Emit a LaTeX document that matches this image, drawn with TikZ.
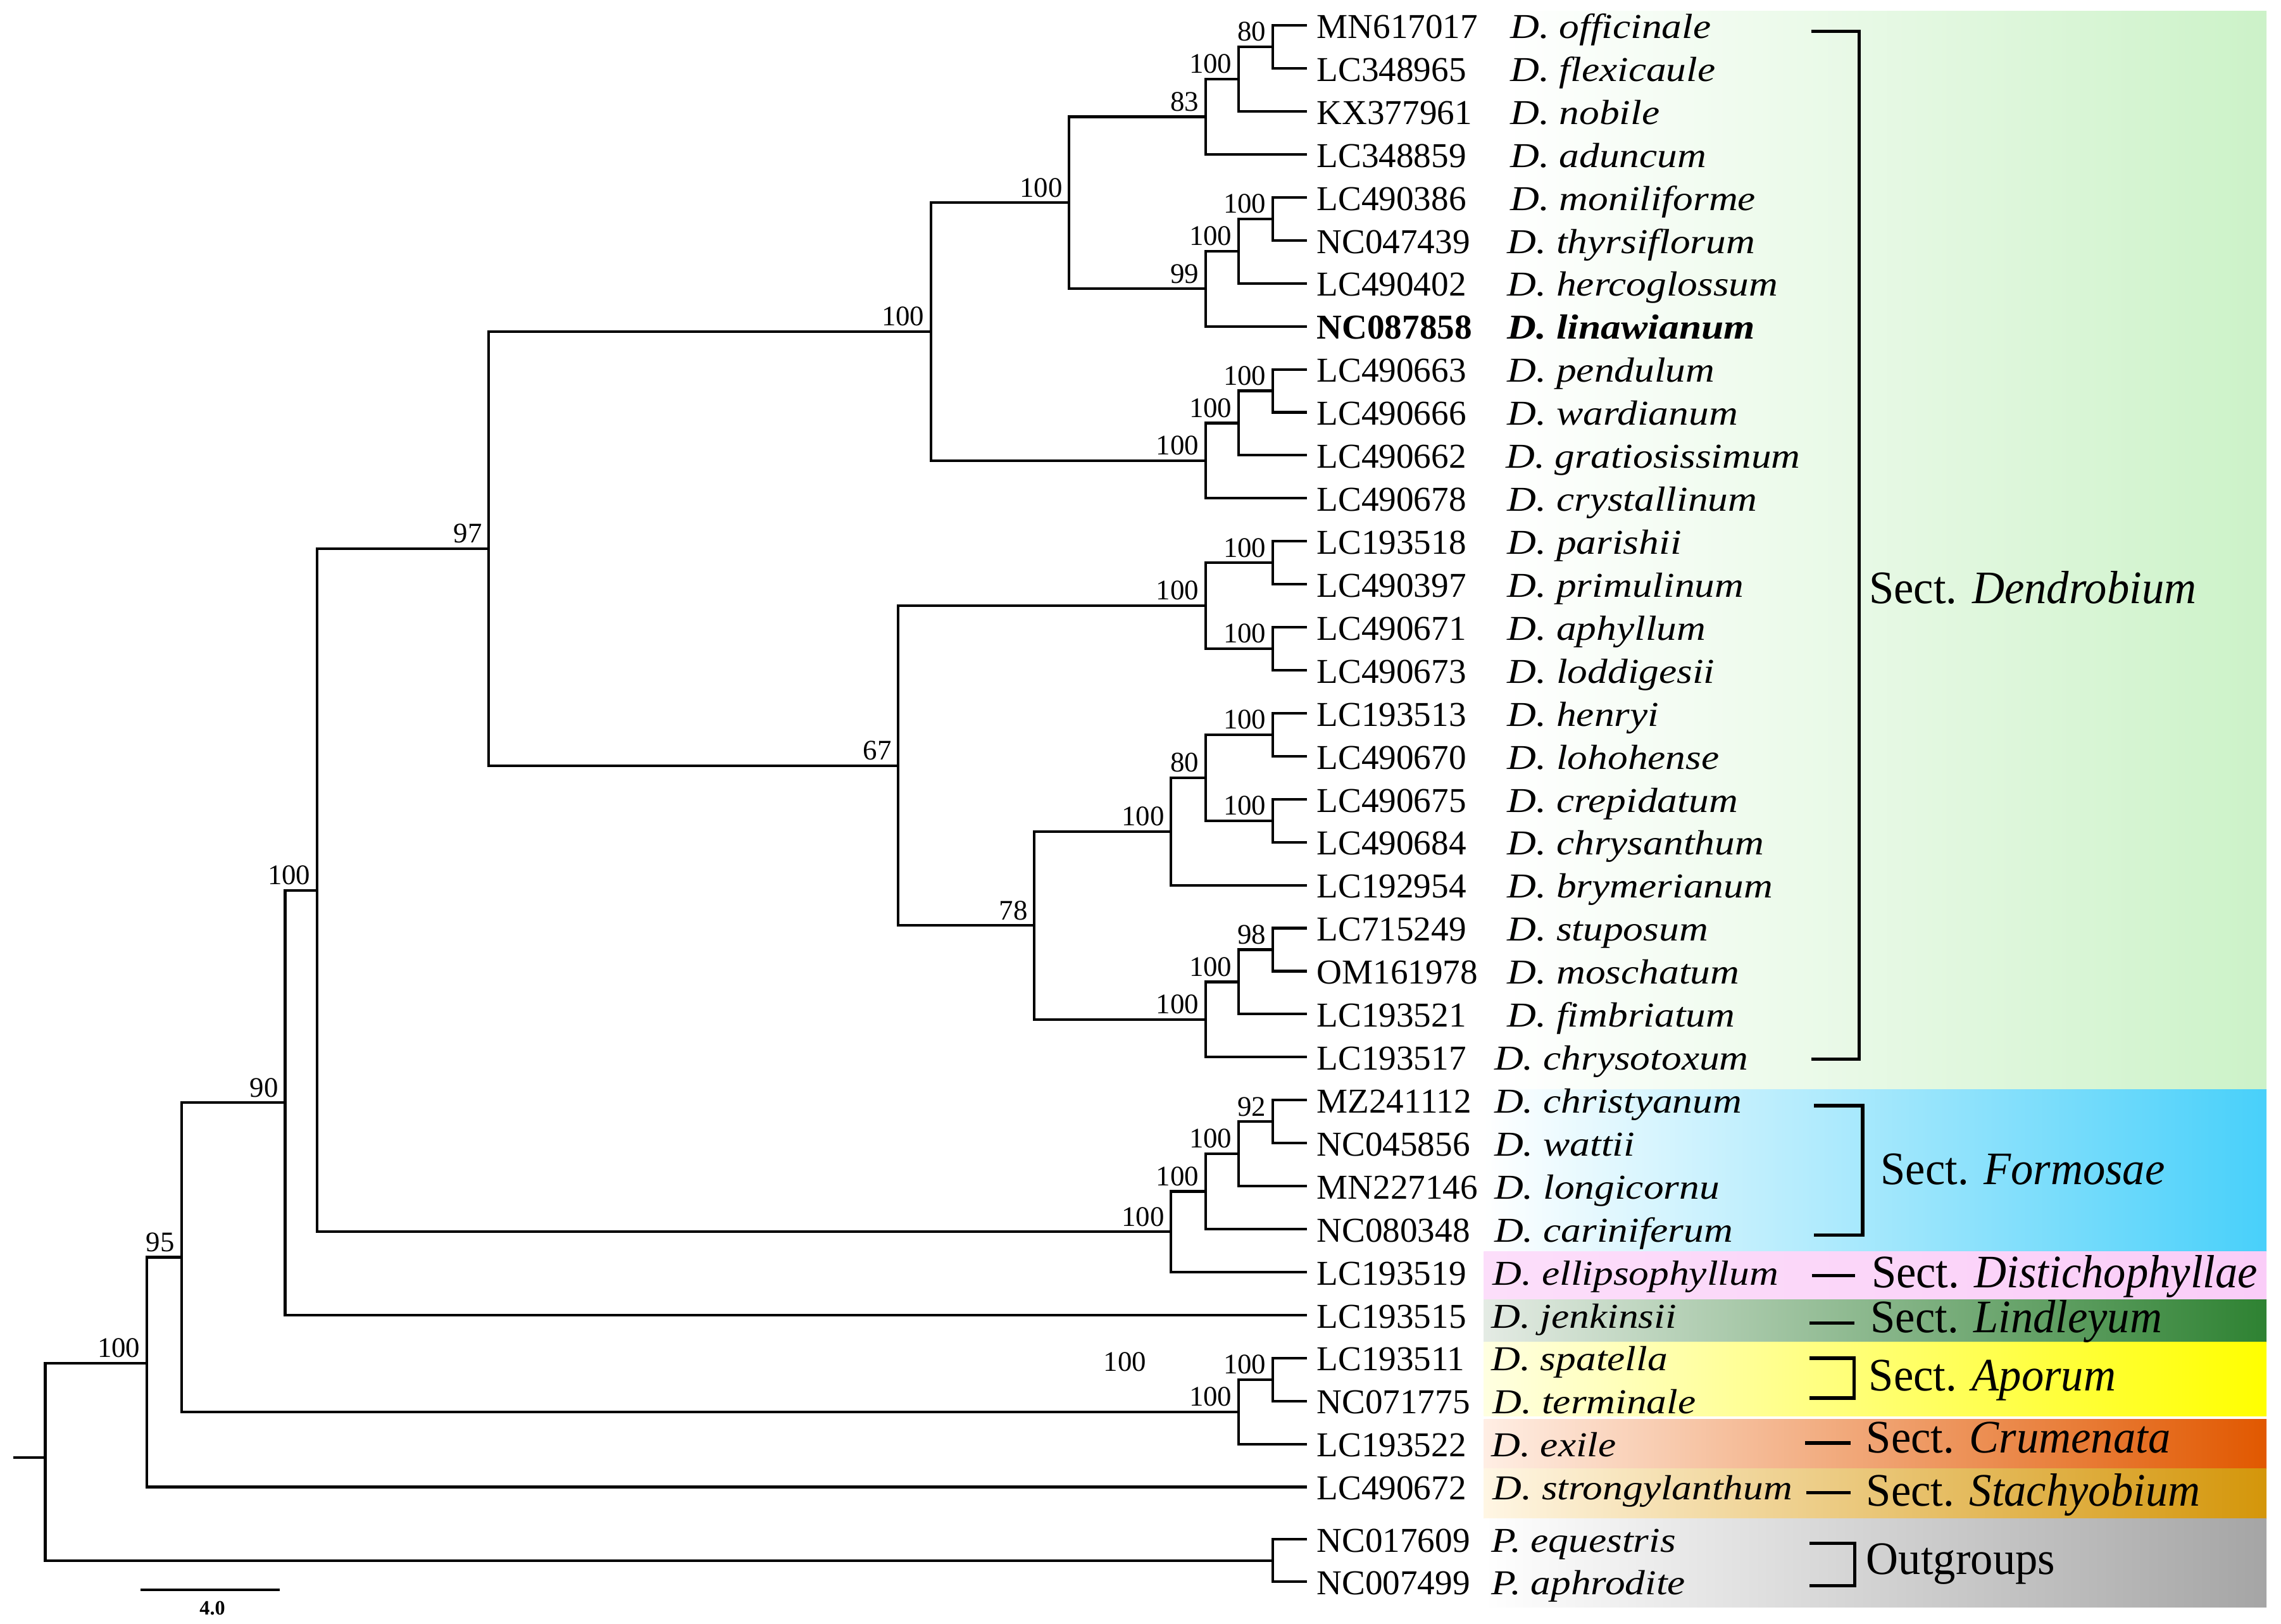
\documentclass[tikz,border=0pt]{standalone}
\usepackage{fontspec}
\setmainfont{Liberation Serif}
\newfontfamily\spfont{Liberation Serif}[FakeStretch=1.15]
\newfontfamily\secfont{Liberation Serif}[FakeStretch=0.96]
\usetikzlibrary{calc}
\definecolor{cDen}{RGB}{204,242,200}
\definecolor{cFor}{RGB}{72,208,250}
\definecolor{cDisL}{RGB}{252,222,250}
\definecolor{cDis}{RGB}{250,205,248}
\definecolor{cLinL}{RGB}{228,235,228}
\definecolor{cLin}{RGB}{46,130,50}
\definecolor{cApoL}{RGB}{255,255,225}
\definecolor{cApo}{RGB}{255,255,0}
\definecolor{cCruL}{RGB}{255,238,228}
\definecolor{cCru}{RGB}{225,88,0}
\definecolor{cStaL}{RGB}{255,246,228}
\definecolor{cSta}{RGB}{212,150,10}
\definecolor{cOut}{RGB}{165,165,165}
\tikzset{
  tree/.style={line width=1.8pt, line join=miter},
  brk/.style={line width=2.3pt, line join=miter},
  acc/.style={anchor=base west, inner sep=0pt, font=\fontsize{24}{28}\selectfont},
  sp/.style={anchor=base west, inner sep=0pt, font=\spfont\itshape\fontsize{24}{28}\selectfont},
  bs/.style={anchor=base east, inner sep=0pt, font=\fontsize{19.5}{22}\selectfont},
  sec/.style={anchor=base west, inner sep=0pt, font=\secfont\fontsize{32}{36}\selectfont},
}
\newcommand\tipx[5]{%
  \coordinate (t#1) at (898.5,#2);
  \node[acc] (acc#1) at (905,#2+8.8) {#3};
  \node[sp] (sp#1) at (#5,#2+8.8) {#4};
}
\newcommand\bsl[2]{\node[bs] at ([shift={(-4.5,-4)}]#1) {#2};}
\begin{document}
\begin{tikzpicture}[x=1pt,y=-1pt]
\useasboundingbox (0,0) rectangle (1568,1116);
\fill[white] (0,0) rectangle (1568,1116);
% ---- coloured bands ----
\shade[left color=white, right color=cDen] (1036,7.4) rectangle (1558,749.1);
\shade[left color=white, right color=cFor] (1020,749.1) rectangle (1558,860.2);
\shade[left color=cDisL, right color=cDis] (1020,860.2) rectangle (1558,893.2);
\shade[left color=cLinL, right color=cLin] (1020,893.2) rectangle (1558,922.4);
\shade[left color=cApoL, right color=cApo] (1020,922.4) rectangle (1558,973.3);
\shade[left color=cCruL, right color=cCru] (1020,975.8) rectangle (1558,1009.6);
\shade[left color=cStaL, right color=cSta] (1020,1009.6) rectangle (1558,1043.9);
\shade[left color=white, right color=cOut] (1020,1043.9) rectangle (1558,1104.7);
% ---- tips ----
\tipx{1}{17.5}{MN617017}{D. officinale}{1038}
\tipx{2}{47.05}{LC348965}{D. flexicaule}{1038}
\tipx{3}{76.6}{KX377961}{D. nobile}{1038}
\tipx{4}{106.15}{LC348859}{D. aduncum}{1038}
\tipx{5}{135.7}{LC490386}{D. moniliforme}{1038}
\tipx{6}{165.25}{NC047439}{D. thyrsiflorum}{1036}
\tipx{7}{194.8}{LC490402}{D. hercoglossum}{1036}
\tipx{8}{224.35}{\bfseries NC087858}{\bfseries D. linawianum}{1036}
\tipx{9}{253.9}{LC490663}{D. pendulum}{1036}
\tipx{10}{283.45}{LC490666}{D. wardianum}{1036}
\tipx{11}{313.0}{LC490662}{D. gratiosissimum}{1035}
\tipx{12}{342.55}{LC490678}{D. crystallinum}{1036}
\tipx{13}{372.1}{LC193518}{D. parishii}{1036}
\tipx{14}{401.65}{LC490397}{D. primulinum}{1036}
\tipx{15}{431.2}{LC490671}{D. aphyllum}{1036}
\tipx{16}{460.75}{LC490673}{D. loddigesii}{1036}
\tipx{17}{490.3}{LC193513}{D. henryi}{1036}
\tipx{18}{519.85}{LC490670}{D. lohohense}{1036}
\tipx{19}{549.4}{LC490675}{D. crepidatum}{1036}
\tipx{20}{578.95}{LC490684}{D. chrysanthum}{1036}
\tipx{21}{608.5}{LC192954}{D. brymerianum}{1036}
\tipx{22}{638.05}{LC715249}{D. stuposum}{1036}
\tipx{23}{667.6}{OM161978}{D. moschatum}{1036}
\tipx{24}{697.15}{LC193521}{D. fimbriatum}{1036}
\tipx{25}{726.7}{LC193517}{D. chrysotoxum}{1027}
\tipx{26}{756.25}{MZ241112}{D. christyanum}{1027}
\tipx{27}{785.8}{NC045856}{D. wattii}{1027}
\tipx{28}{815.35}{MN227146}{D. longicornu}{1027}
\tipx{29}{844.9}{NC080348}{D. cariniferum}{1027}
\tipx{30}{874.45}{LC193519}{D. ellipsophyllum}{1026}
\tipx{31}{904.0}{LC193515}{D. jenkinsii}{1025}
\tipx{32}{933.55}{LC193511}{D. spatella}{1025}
\tipx{33}{963.1}{NC071775}{D. terminale}{1026}
\tipx{34}{992.65}{LC193522}{D. exile}{1025}
\tipx{35}{1022.2}{LC490672}{D. strongylanthum}{1026}
\tipx{36}{1058}{NC017609}{P. equestris}{1025}
\tipx{37}{1087.4}{NC007499}{P. aphrodite}{1025}
% ---- internal nodes ----
\coordinate (nA) at (875,32.28);
\coordinate (nB) at (851.5,54.44);
\coordinate (nC) at (828.8,80.29);
\coordinate (nD) at (875,150.48);
\coordinate (nE) at (851.5,172.64);
\coordinate (nF) at (828.8,198.49);
\coordinate (nG) at (735,139.39);
\coordinate (nH) at (875,268.68);
\coordinate (nI) at (851.5,290.84);
\coordinate (nJ) at (828.8,316.69);
\coordinate (nK) at (640,228.04);
\coordinate (nL) at (875,386.88);
\coordinate (nM) at (875,445.98);
\coordinate (nN) at (828.8,416.43);
\coordinate (nO) at (875,505.08);
\coordinate (nP) at (875,564.18);
\coordinate (nQ) at (828.8,534.63);
\coordinate (nR) at (805,571.56);
\coordinate (nS) at (875,652.83);
\coordinate (nT) at (851.5,674.99);
\coordinate (nU) at (828.8,700.84);
\coordinate (nV) at (711,636.2);
\coordinate (nW) at (617.5,526.32);
\coordinate (nX) at (336,377.18);
\coordinate (na) at (875,771.03);
\coordinate (nb) at (851.5,793.19);
\coordinate (nc) at (828.8,819.04);
\coordinate (nd) at (805,846.75);
\coordinate (ne) at (218,611.96);
\coordinate (nf) at (196,757.98);
\coordinate (ng) at (875,948.33);
\coordinate (nh) at (851.5,970.49);
\coordinate (ni) at (124.7,864.24);
\coordinate (nj) at (101,937.1);
\coordinate (nk) at (875,1072.7);
\coordinate (root) at (31.1,1001.8);
\coordinate (stub) at (9.3,1001.8);
% ---- branches ----
\draw[tree] (nA) |- (t1) (nA) |- (t2);
\draw[tree] (nB) |- (nA) (nB) |- (t3);
\draw[tree] (nC) |- (nB) (nC) |- (t4);
\draw[tree] (nD) |- (t5) (nD) |- (t6);
\draw[tree] (nE) |- (nD) (nE) |- (t7);
\draw[tree] (nF) |- (nE) (nF) |- (t8);
\draw[tree] (nG) |- (nC) (nG) |- (nF);
\draw[tree] (nH) |- (t9) (nH) |- (t10);
\draw[tree] (nI) |- (nH) (nI) |- (t11);
\draw[tree] (nJ) |- (nI) (nJ) |- (t12);
\draw[tree] (nK) |- (nG) (nK) |- (nJ);
\draw[tree] (nL) |- (t13) (nL) |- (t14);
\draw[tree] (nM) |- (t15) (nM) |- (t16);
\draw[tree] (nN) |- (nL) (nN) |- (nM);
\draw[tree] (nO) |- (t17) (nO) |- (t18);
\draw[tree] (nP) |- (t19) (nP) |- (t20);
\draw[tree] (nQ) |- (nO) (nQ) |- (nP);
\draw[tree] (nR) |- (nQ) (nR) |- (t21);
\draw[tree] (nS) |- (t22) (nS) |- (t23);
\draw[tree] (nT) |- (nS) (nT) |- (t24);
\draw[tree] (nU) |- (nT) (nU) |- (t25);
\draw[tree] (nV) |- (nR) (nV) |- (nU);
\draw[tree] (nW) |- (nN) (nW) |- (nV);
\draw[tree] (nX) |- (nK) (nX) |- (nW);
\draw[tree] (na) |- (t26) (na) |- (t27);
\draw[tree] (nb) |- (na) (nb) |- (t28);
\draw[tree] (nc) |- (nb) (nc) |- (t29);
\draw[tree] (nd) |- (nc) (nd) |- (t30);
\draw[tree] (ne) |- (nX) (ne) |- (nd);
\draw[tree] (nf) |- (ne) (nf) |- (t31);
\draw[tree] (ng) |- (t32) (ng) |- (t33);
\draw[tree] (nh) |- (ng) (nh) |- (t34);
\draw[tree] (ni) |- (nf) (ni) |- (nh);
\draw[tree] (nj) |- (ni) (nj) |- (t35);
\draw[tree] (nk) |- (t36) (nk) |- (t37);
\draw[tree] (root) |- (nj) (root) |- (nk);
\draw[tree] (stub) -- (root);
% ---- bootstrap values ----
\bsl{nA}{80} \bsl{nB}{100} \bsl{nC}{83}
\bsl{nD}{100} \bsl{nE}{100} \bsl{nF}{99} \bsl{nG}{100}
\bsl{nH}{100} \bsl{nI}{100} \bsl{nJ}{100} \bsl{nK}{100}
\bsl{nL}{100} \bsl{nM}{100} \bsl{nN}{100}
\bsl{nO}{100} \bsl{nP}{100} \bsl{nQ}{80} \bsl{nR}{100}
\bsl{nS}{98} \bsl{nT}{100} \bsl{nU}{100} \bsl{nV}{78} \bsl{nW}{67} \bsl{nX}{97}
\bsl{na}{92} \bsl{nb}{100} \bsl{nc}{100} \bsl{nd}{100}
\bsl{ne}{100} \bsl{nf}{90} \bsl{ng}{100} \bsl{nh}{100} \bsl{ni}{95} \bsl{nj}{100}
\node[bs] (extra100) at (788.2,942.6) {100};
% ---- brackets ----
\draw[brk] (1245,21.5) -- (1278,21.5) -- (1278,728) -- (1245,728);
\draw[brk] (1247,760) -- (1280.4,760) -- (1280.4,849) -- (1247,849);
\draw[brk] (1245.4,877) -- (1275.3,877);
\draw[brk] (1244,909.4) -- (1274.6,909.4);
\draw[brk] (1244,933.7) -- (1274.6,933.7) -- (1274.6,961) -- (1244,961);
\draw[brk] (1240.8,992) -- (1272,992);
\draw[brk] (1241.5,1026) -- (1272,1026);
\draw[brk] (1244,1061) -- (1275,1061) -- (1275,1090) -- (1244,1090);
% ---- section labels ----
\node[sec] (sDen) at (1284.7,414.8) {Sect. \textit{Dendrobium}};
\node[sec] (sFor) at (1292.6,814.1) {Sect. \textit{Formosae}};
\node[sec] (sDis) at (1286.3,885) {Sect. \textit{Distichophyllae}};
\node[sec] (sLin) at (1285.6,916.2) {Sect. \textit{Lindleyum}};
\node[sec] (sApo) at (1284.5,956) {Sect. \textit{Aporum}};
\node[sec] (sCru) at (1282.8,998.7) {Sect. \textit{Crumenata}};
\node[sec] (sSta) at (1282.8,1035.3) {Sect. \textit{Stachyobium}};
\node[sec] (sOut) at (1282.8,1082.1) {Outgroups};
% ---- scale bar ----
\coordinate (sbL) at (96.7,1092.8);
\coordinate (sbR) at (192.3,1092.8);
\draw[line width=2pt] (sbL) -- (sbR);
\node[anchor=base, inner sep=0pt, font=\bfseries\fontsize{14}{16}\selectfont] (sblab) at (146,1110) {4.0};
\end{tikzpicture}
\end{document}
